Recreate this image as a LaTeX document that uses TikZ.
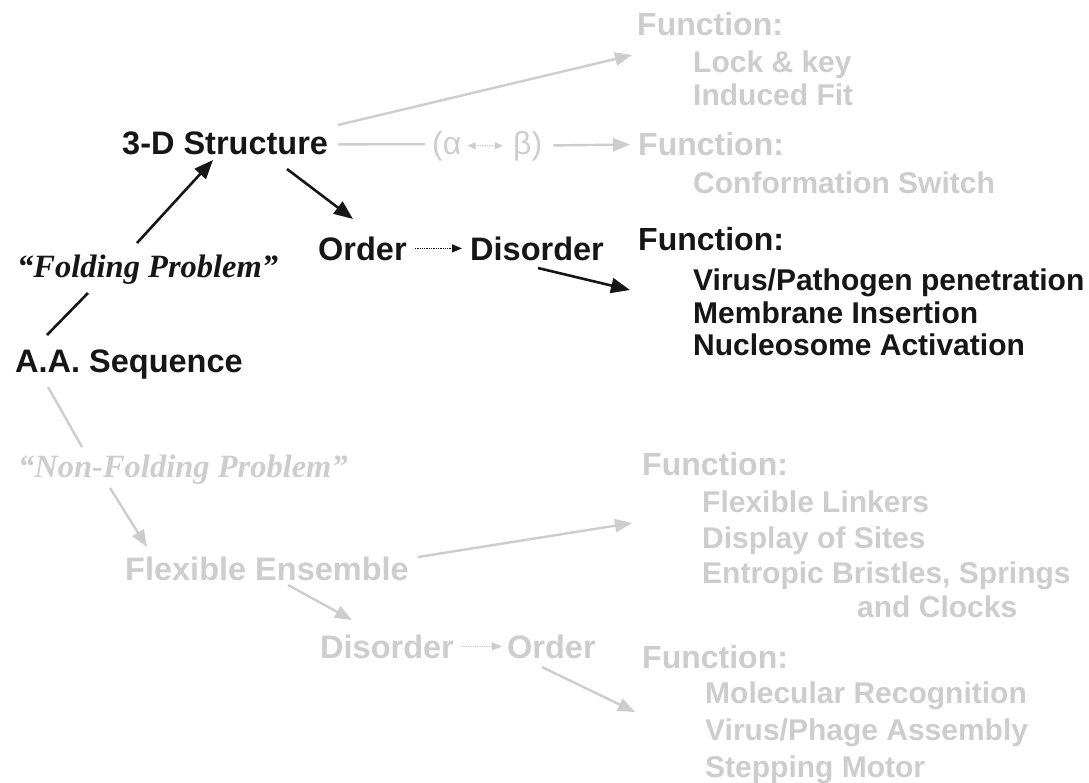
\documentclass[tikz,border=0pt]{standalone}
\usepackage{fontspec}
\setmainfont{Liberation Sans}
\newfontfamily\probfont{Liberation Serif}
\usetikzlibrary{arrows.meta, calc}
\definecolor{ink}{RGB}{22,22,22}
\definecolor{faded}{RGB}{205,205,205}

\tikzset{
  lbl/.style={inner sep=0pt, anchor=base west, text=ink, font=\fontsize{32.5}{39}\selectfont\bfseries},
  head/.style={inner sep=0pt, anchor=base west, text=ink, font=\fontsize{32}{38}\selectfont\bfseries},
  item/.style={inner sep=0pt, anchor=base west, text=ink, font=\fontsize{30}{36}\selectfont\bfseries},
  prob/.style={inner sep=0pt, anchor=base west, text=ink, font=\fontsize{32.5}{39}\selectfont\probfont\bfseries\itshape},
  greek/.style={inner sep=0pt, anchor=base west, text=faded, font=\fontsize{32}{38}\selectfont},
  off/.style={text=faded},
  blkline/.style={line width=2.6pt, draw=ink},
  blkarrow/.style={blkline, -{Triangle[length=19pt,width=15pt]}},
  grayline/.style={line width=2.4pt, draw=faded},
  grayarrow/.style={grayline, -{Triangle[length=17pt,width=13pt]}},
  dotarrow/.style={line width=1.3pt, densely dotted, -{Triangle[length=10pt,width=8pt]}}
}

\begin{document}
\begin{tikzpicture}[x=1pt,y=-1pt]
\useasboundingbox (0,0) rectangle (1089,782);

% folding branch
\node[lbl] (seq) at (15,372) {A.A. Sequence};
\node[prob] (fold) at (17,277) {“Folding Problem”};
\node[lbl] (struct) at (122,154) {3-D Structure};
\node[lbl] (order) at (318,260) {Order};
\node[lbl] (disorder) at (470,260) {Disorder};
\node[greek] (alpha) at (432,154) {(α};
\node[greek] (beta) at (513,154) {β)};

\node[head,off] (fnA) at (637,35) {Function:};
\node[item,off] (lock) at (693,72) {Lock \& key};
\node[item,off] (induced) at (693,105) {Induced Fit};
\node[head,off] (fnB) at (638,155) {Function:};
\node[item,off] (switch) at (693,193) {Conformation Switch};
\node[head] (fnC) at (638,250) {Function:};
\node[item] (virus) at (693,290) {Virus/Pathogen penetration};
\node[item] (membrane) at (693,323) {Membrane Insertion};
\node[item] (nucleo) at (693,355) {Nucleosome Activation};

% non-folding branch
\node[prob,off] (nonfold) at (18,477) {“Non-Folding Problem”};
\node[lbl,off] (flexens) at (125,580) {Flexible Ensemble};
\node[lbl,off] (dis2) at (320,658) {Disorder};
\node[lbl,off] (ord2) at (507,658) {Order};

\node[head,off] (fnD) at (642,475) {Function:};
\node[item,off] (linkers) at (702,512) {Flexible Linkers};
\node[item,off] (sites) at (702,548) {Display of Sites};
\node[item,off] (bristles) at (702,583) {Entropic Bristles, Springs};
\node[item,off] (clocks) at (857,617) {and Clocks};
\node[head,off] (fnE) at (642,668) {Function:};
\node[item,off] (recog) at (705,703) {Molecular Recognition};
\node[item,off] (phage) at (705,740) {Virus/Phage Assembly};
\node[item,off] (motor) at (705,777) {Stepping Motor};

% black connectors
\draw[blkline] ($(seq.base west)+(32,-37)$) -- ($(fold.base west)+(71,16)$);
\draw[blkarrow] ($(fold.base west)+(120,-34)$) -- ($(struct.base west)+(91,6)$);
\draw[blkarrow] ($(struct.base west)+(165,15)$) -- ($(order.base west)+(35,-41)$);
\draw[dotarrow, ink, shorten <=8pt, shorten >=8pt] (order) -- (disorder);
\draw[blkarrow] ($(disorder.base west)+(68,8)$) -- ($(fnC.base west)+(-8,40)$);

% gray connectors
\draw[grayarrow] ($(struct.base west)+(216,-29)$) -- ($(fnA.base west)+(-5,20)$);
\draw[grayline] ($(struct.east)+(10,1.5)$) -- ($(alpha.west)+(-7,-1.5)$);
\draw[dotarrow, faded, line width=1.2pt, {Triangle[length=8pt,width=7pt]}-{Triangle[length=8pt,width=7pt]},
  shorten <=6pt, shorten >=10pt] (alpha) -- (beta);
\draw[grayarrow, shorten <=11pt, shorten >=8pt] (beta) -- (fnB);

\draw[grayline] ($(seq.base west)+(33,15)$) -- ($(nonfold.base west)+(64,-30)$);
\draw[grayarrow] ($(nonfold.base west)+(92,11)$) -- ($(flexens.base west)+(22,-33)$);
\draw[grayarrow] ($(flexens.base west)+(163,5)$) -- ($(dis2.base west)+(32,-38)$);
\draw[grayarrow] ($(flexens.base west)+(293,-23)$) -- ($(fnD.base west)+(-10,48)$);
\draw[dotarrow, faded, shorten <=7pt, shorten >=5pt] (dis2) -- (ord2);
\draw[grayarrow] ($(ord2.base west)+(35,9)$) -- ($(fnE.base west)+(-7,44)$);

\end{tikzpicture}
\end{document}
